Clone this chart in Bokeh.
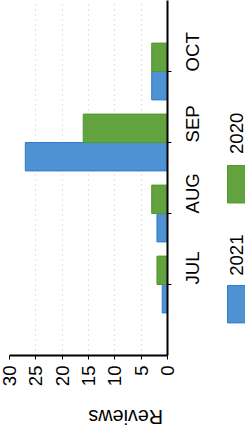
import math
from bokeh.plotting import figure
from bokeh.models import Range1d, ColumnDataSource, FixedTicker
from bokeh.transform import dodge
from bokeh.layouts import row
from bokeh.embed import file_html
from bokeh.resources import INLINE
from bokeh.core.properties import value

# ---- data ----
months = ["JUL", "AUG", "SEP", "OCT"]
reviews_2021 = [1, 2, 27, 3]
reviews_2020 = [2, 3, 16, 3]
series_names = ["2021", "2020"]
value_ticks = [0, 5, 10, 15, 20, 25, 30]
axis_title = "Reviews"

BLUE = "#4f92d3"
BLUE_EDGE = "#2f7cc8"
GREEN = "#62a23f"
GREEN_EDGE = "#4e9a2a"
FONT = "Liberation Sans"
FS = "18.6px"

# ---- page geometry (pixels) ----
H = 442
BOTTOM = 72
LEFT = 9
RIGHT = 58
FRAME_W = 158
W = LEFT + FRAME_W + RIGHT          # main figure: page x 8 .. 233
LW = 20                             # legend strip: page x 233 .. 253
frame_top, frame_bottom = 8, 8 + H - BOTTOM

pos = list(range(len(months)))      # category slots, JUL at the bottom
vmax = max(value_ticks)
y_rng = Range1d(-1, len(months))

p = figure(width=W, height=H, y_range=y_rng, x_range=Range1d(vmax, 0),
           output_backend="svg", toolbar_location=None,
           x_axis_location="below", y_axis_location="right",
           min_border_top=0, min_border_left=LEFT, min_border_bottom=BOTTOM, min_border_right=RIGHT)
p.outline_line_color = None
p.background_fill_color = "white"

src = ColumnDataSource(dict(pos=pos, y2021=reviews_2021, y2020=reviews_2020))
p.hbar(y=dodge("pos", -0.2), left=0, right="y2021", height=0.4,
       source=src, fill_color=BLUE, line_color=BLUE_EDGE)
p.hbar(y=dodge("pos", 0.2), left=0, right="y2020", height=0.4,
       source=src, fill_color=GREEN, line_color=GREEN_EDGE)

# value axis (bottom of the rotated page)
xa = p.xaxis[0]
xa.ticker = FixedTicker(ticks=value_ticks)
xa.major_label_orientation = math.pi / 2
xa.major_label_text_font = FONT
xa.major_label_text_font_size = FS
xa.major_label_text_color = "black"
xa.major_label_standoff = 6
xa.major_tick_in = 0
xa.major_tick_out = 4
xa.minor_tick_out = 0
xa.minor_tick_in = 0
xa.axis_line_width = 2
xa.axis_line_color = "black"
xa.major_tick_line_color = "black"
xa.axis_label = axis_title
xa.axis_label_orientation = math.pi
xa.axis_label_text_font = FONT
xa.axis_label_text_font_size = "19.7px"
xa.axis_label_text_font_style = "normal"
xa.axis_label_text_color = "black"
xa.axis_label_standoff = 28

# category axis (right side of the rotated page)
ya = p.yaxis[0]
ya.ticker = FixedTicker(ticks=pos)
ya.major_label_overrides = {i: m for i, m in zip(pos, months)}
ya.major_label_orientation = math.pi / 2
ya.major_label_text_font = FONT
ya.major_label_text_font_size = FS
ya.major_label_text_color = "black"
ya.major_label_standoff = 21
ya.major_tick_in = 0
ya.major_tick_out = 4
ya.minor_tick_in = 0
ya.minor_tick_out = 0
ya.axis_line_width = 2
ya.axis_line_color = "black"
ya.major_tick_line_color = "black"

p.ygrid.grid_line_color = None
p.xgrid.grid_line_color = "#c9c9b4"
p.xgrid.grid_line_dash = "1 4"
p.xgrid.grid_line_width = 1

# ---- legend strip: swatches + rotated labels, ranges in page pixels ----
X0 = 8 + W
leg = figure(width=LW, height=H, x_range=Range1d(X0, X0 + LW),
             y_range=Range1d(frame_bottom, frame_top),
             output_backend="svg", toolbar_location=None,
             x_axis_location=None, y_axis_location=None,
             min_border_top=0, min_border_left=0, min_border_right=0, min_border_bottom=BOTTOM)
leg.grid.visible = False
leg.outline_line_color = None

cx = 244
sw_w, sw_h = 18, 39
swatch_bottom = [344, 219]
label_start = [295, 168]
lsrc = ColumnDataSource(dict(
    x=[cx, cx],
    y=[b - sw_h / 2 for b in swatch_bottom],
    ty=label_start,
    c=[BLUE, GREEN], e=[BLUE_EDGE, GREEN_EDGE], t=series_names))
leg.rect(x="x", y="y", width=sw_w, height=sw_h, fill_color="c", line_color="e", source=lsrc)
leg.text(x="x", y="ty", text="t", angle=math.pi / 2, text_align="left", text_baseline="middle",
         text_font=value(FONT), text_font_size=FS, text_color="black", source=lsrc)

layout = row(p, leg, spacing=0)
open("out.html", "w").write(file_html(layout, INLINE))
